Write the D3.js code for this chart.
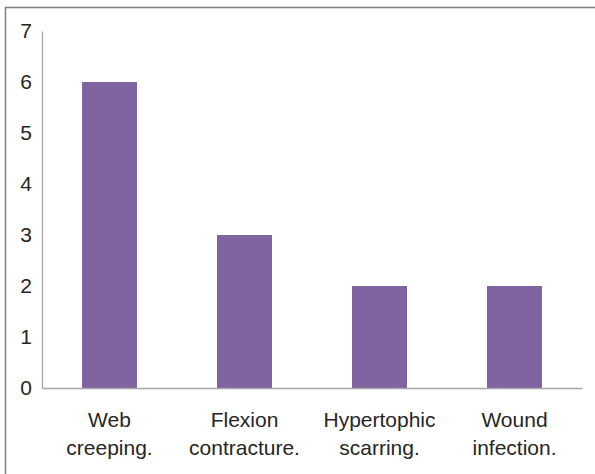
<!DOCTYPE html>
<html>
<head>
<meta charset="utf-8">
<script src="https://cdn.jsdelivr.net/npm/d3@7"></script>
<style>
  body { margin: 0; background: #fff; }
  svg { display: block; font-family: "Liberation Sans", Arial, sans-serif; }
</style>
</head>
<body>
<svg id="canvas" width="595" height="474"></svg>
<script>
// chart data
const categories = [["Web", "creeping."], ["Flexion", "contracture."], ["Hypertophic", "scarring."], ["Wound", "infection."]]
const counts = [6, 3, 2, 2]
const yTicks = [0, 1, 2, 3, 4, 5, 6, 7]

const plotLeft = 42, plotRight = 582, plotTop = 31, plotBottom = 388

let canvas = d3.select('#canvas')

// outer frame (only top/left visible in the picture)
canvas.append('rect')
  .attr('x', 5.5).attr('y', 7.5)
  .attr('width', 620).attr('height', 500)
  .attr('fill', 'none')
  .attr('stroke', '#7f7f7f')
  .attr('stroke-width', 1.5)

let x = d3.scaleBand()
  .domain(d3.range(categories.length))
  .range([plotLeft, plotRight])
  .paddingInner(0.593)
  .paddingOuter(0.2965)

let y = d3.scaleLinear()
  .domain([0, 7])
  .range([plotBottom, plotTop])

// bars
canvas.selectAll('rect.bar')
  .data(counts)
  .enter()
  .append('rect')
  .attr('class', 'bar')
  .attr('x', (d, i) => x(i))
  .attr('width', x.bandwidth())
  .attr('y', d => y(d))
  .attr('height', d => y(0) - y(d))
  .attr('fill', '#8064a2')

// y axis
let yAxis = canvas.append('g')
  .attr('transform', `translate(${plotLeft},0)`)
  .call(d3.axisLeft(y).tickValues(yTicks).tickSize(0).tickPadding(10).tickFormat(d3.format('d')))
yAxis.select('.domain').attr('stroke', '#a6a6a6').attr('stroke-width', 1.3)
yAxis.selectAll('text')
  .attr('font-size', 21)
  .attr('font-family', '"Liberation Sans", Arial, sans-serif')
  .attr('fill', '#262626')

// x axis line
let xAxis = canvas.append('g')
  .attr('transform', `translate(0,${plotBottom})`)
  .call(d3.axisBottom(x).tickSize(0).tickFormat(''))
xAxis.select('.domain').attr('stroke', '#a6a6a6').attr('stroke-width', 1.3)

// two-line category labels
let labels = canvas.selectAll('text.cat')
  .data(categories)
  .enter()
  .append('text')
  .attr('class', 'cat')
  .attr('text-anchor', 'middle')
  .attr('font-size', 21)
  .attr('fill', '#262626')

labels.selectAll('tspan')
  .data((d, i) => d.map(t => ({ t, i })))
  .enter()
  .append('tspan')
  .attr('x', d => x(d.i) + x.bandwidth() / 2)
  .attr('y', (d, j) => 426.5 + j * 28.5)
  .text(d => d.t)
</script>
</body>
</html>
